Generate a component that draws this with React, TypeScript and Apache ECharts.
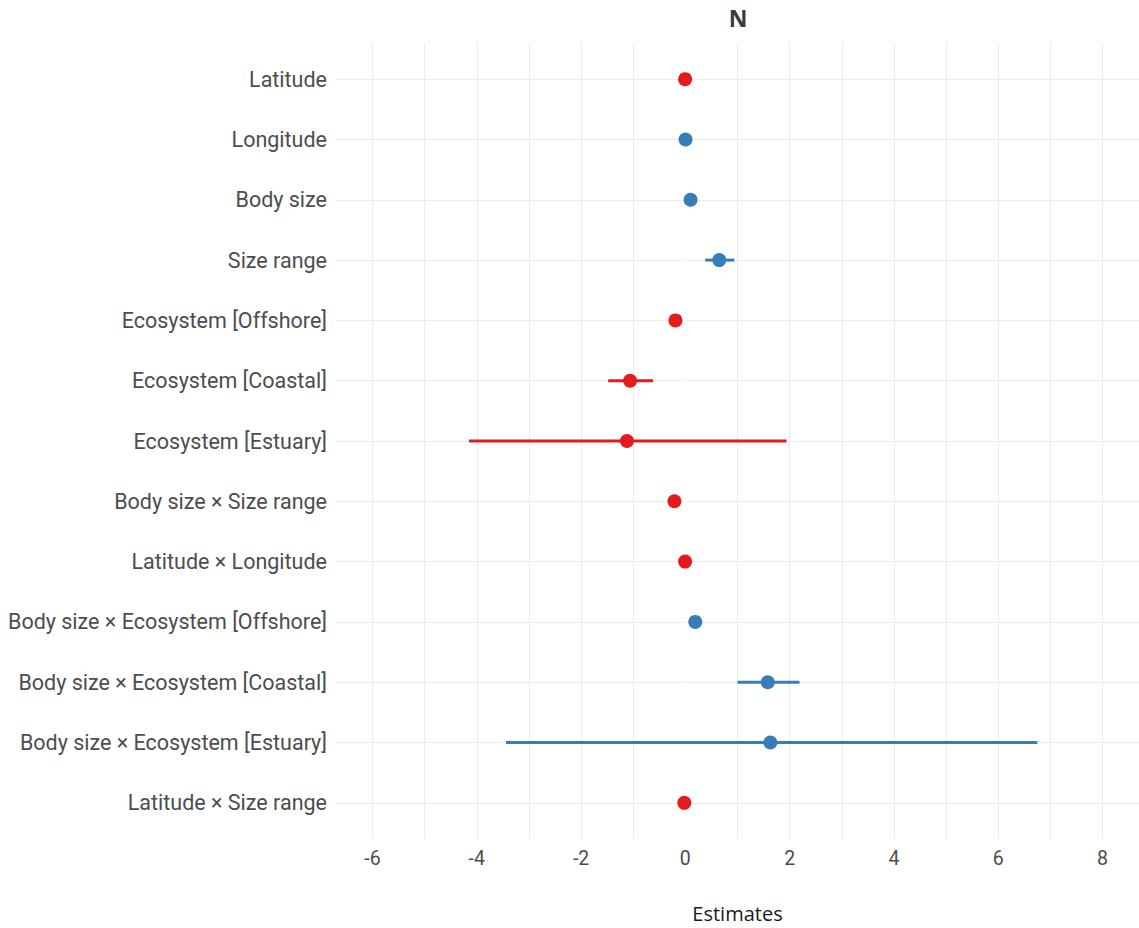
import React, { useEffect, useRef } from "react";
import * as echarts from "echarts";

const categories = [
  "Latitude",
  "Longitude",
  "Body size",
  "Size range",
  "Ecosystem [Offshore]",
  "Ecosystem [Coastal]",
  "Ecosystem [Estuary]",
  "Body size × Size range",
  "Latitude × Longitude",
  "Body size × Ecosystem [Offshore]",
  "Body size × Ecosystem [Coastal]",
  "Body size × Ecosystem [Estuary]",
  "Latitude × Size range",
];
const estimates = [-0.005, 0.003, 0.1, 0.65, -0.19, -1.06, -1.12, -0.21, -0.005, 0.19, 1.58, 1.63, -0.02];
const ciLow = [-0.03, -0.02, 0.05, 0.38, -0.25, -1.48, -4.15, -0.28, -0.01, 0.12, 1.0, -3.44, -0.05];
const ciHigh = [0.02, 0.03, 0.15, 0.94, -0.13, -0.62, 1.94, -0.14, 0.0, 0.26, 2.19, 6.75, 0.01];
const xLabelTicks = [-6, -4, -2, 0, 2, 4, 6, 8];
const xGridTicks = [-6, -5, -4, -3, -2, -1, 0, 1, 2, 3, 4, 5, 6, 7, 8];

const RED = "#e41a1c";
const BLUE = "#377eb8";

export default function App() {
  const ref = useRef<HTMLDivElement>(null);
  useEffect(() => {
    document.body.style.margin = "0";
    const chart = echarts.init(ref.current!, null, { renderer: "svg" });
    const rows = categories.map((_, i) => i);
    const colorOf = (i: number) => (estimates[i] < 0 ? RED : BLUE);
    chart.setOption({
      animation: false,
      backgroundColor: "#ffffff",
      graphic: [
        {
          type: "text",
          x: 738,
          y: 18,
          style: {
            text: "N",
            textAlign: "center",
            textVerticalAlign: "middle",
            fontFamily: "Open Sans",
            fontWeight: "bold",
            fontSize: 23,
            fill: "#3a3a3a",
          },
        },
      ],
      grid: { left: 336, right: 0, top: 43, bottom: 84, containLabel: false },
      xAxis: {
        type: "value",
        min: -6.7,
        max: 8.7,
        name: "Estimates",
        nameLocation: "middle",
        nameGap: 64,
        nameTextStyle: { fontFamily: "Open Sans", fontSize: 20, color: "#1a1a1a" },
        axisLine: { show: false },
        axisTick: { show: true, customValues: xGridTicks, length: 0, lineStyle: { color: "#ebebeb" } },
        axisLabel: {
          customValues: xLabelTicks,
          fontFamily: "Roboto",
          fontSize: 19.5,
          color: "#4d4d4d",
          margin: 9,
        },
        splitLine: { show: true, lineStyle: { color: "#ebebeb", width: 1 } },
      },
      yAxis: {
        type: "value",
        min: -0.6,
        max: 12.6,
        inverse: true,
        axisLine: { show: false },
        axisTick: { show: true, customValues: rows, length: 0, lineStyle: { color: "#ebebeb" } },
        axisLabel: {
          customValues: rows,
          formatter: (v: number) => categories[Math.round(v)] ?? "",
          fontFamily: "Roboto",
          fontSize: 21.5,
          color: "#4d4d4d",
          margin: 9,
        },
        splitLine: { show: true, lineStyle: { color: "#ebebeb", width: 1 } },
      },
      series: [
        {
          type: "line",
          data: [[0, -0.6], [0, 12.6]],
          symbol: "none",
          lineStyle: { color: "#ffffff", width: 3 },
          z: 1,
          silent: true,
        },
        {
          type: "custom",
          z: 2,
          data: rows.map((i) => [ciLow[i], ciHigh[i], i]),
          encode: { x: [0, 1], y: 2 },
          renderItem: (params: any, api: any) => {
            const i = api.value(2);
            const p1 = api.coord([api.value(0), i]);
            const p2 = api.coord([api.value(1), i]);
            return {
              type: "line",
              shape: { x1: p1[0], y1: p1[1], x2: p2[0], y2: p2[1] },
              style: { stroke: colorOf(i), lineWidth: 3 },
            };
          },
        },
        {
          type: "scatter",
          z: 3,
          symbolSize: 14,
          data: rows.map((i) => ({ value: [estimates[i], i], itemStyle: { color: colorOf(i), opacity: 1 } })),
        },
      ],
    });
    return () => chart.dispose();
  }, []);
  return <div ref={ref} style={{ width: 1139, height: 928 }} />;
}
